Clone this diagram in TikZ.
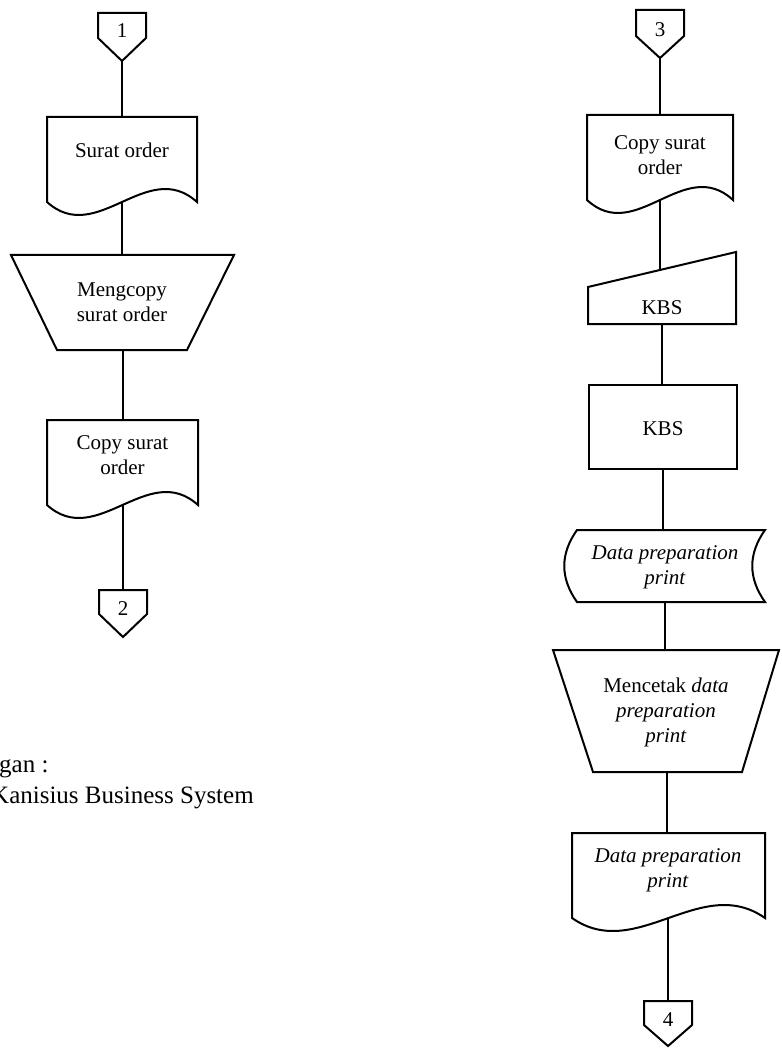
\documentclass[tikz,border=0pt]{standalone}
\usepackage{fontspec}
\setmainfont{Liberation Serif}
\begin{document}
\begin{tikzpicture}[x=1pt,y=-1pt,
  shapeline/.style={draw=black, line width=2pt},
  flow/.style={draw=black, line width=2pt},
  lbl/.style={font=\fontsize{21}{25}\selectfont, align=center, inner sep=0pt},
  legend/.style={font=\fontsize{25}{31}\selectfont, inner sep=0pt, anchor=base west}]
\fill[white] (0,0) rectangle (781,1048);
\useasboundingbox (0,0) rectangle (781,1048);

% ---------------- left flow ----------------
% off-page connector 1
\draw[shapeline] (98,13) -- (146,13) -- (146,38) -- (122,61) -- (98,38) -- cycle;
\node[lbl,anchor=base] (con1) at (122,38) {1};
\coordinate (con1-out) at (122,61);

% document: surat order
\draw[shapeline] (47,202) -- (47,117) -- (197,117) -- (197,202)
  .. controls (147,157) and (97,247) .. (47,202) -- cycle;
\node[lbl,anchor=base] (surat) at (122,158) {Surat order};
\coordinate (surat-in) at (122,117);
\coordinate (surat-out) at (122,202);

% manual operation: mengcopy
\draw[shapeline] (11,255) -- (234,255) -- (187,350) -- (57,350) -- cycle;
\node[lbl] (mengcopy) at (122,302) {Mengcopy\\surat order};
\coordinate (mengcopy-in) at (122,255);
\coordinate (mengcopy-out) at (123,350);

% document: copy surat order
\draw[shapeline] (47,505) -- (47,420) -- (198,420) -- (198,505)
  .. controls (148,460) and (97,550) .. (47,505) -- cycle;
\node[lbl] (copyl) at (122.5,455) {Copy surat\\order};
\coordinate (copyl-in) at (123,420);
\coordinate (copyl-out) at (123,505);

% off-page connector 2
\draw[shapeline] (99,590) -- (147,590) -- (147,614) -- (123,637) -- (99,614) -- cycle;
\node[lbl,anchor=base] (con2) at (123,615) {2};
\coordinate (con2-in) at (123,590);

\draw[flow] (con1-out) -- (surat-in);
\draw[flow] (surat-out) -- (mengcopy-in);
\draw[flow] (mengcopy-out) -- (copyl-in);
\draw[flow] (copyl-out) -- (con2-in);

% legend
\node[legend] (ket) at (-1,772) {gan :};
\node[legend] (kbsdef) at (-9,803) {Kanisius Business System};

% ---------------- right flow ----------------
% off-page connector 3
\draw[shapeline] (636,10) -- (684,10) -- (684,36) -- (660,58) -- (636,36) -- cycle;
\node[lbl,anchor=base] (con3) at (660,37) {3};
\coordinate (con3-out) at (660,58);

% document: copy surat order
\draw[shapeline] (587,200) -- (587,115) -- (733,115) -- (733,200)
  .. controls (684.3,155) and (635.7,245) .. (587,200) -- cycle;
\node[lbl] (copyr) at (660,155) {Copy surat\\order};
\coordinate (copyr-in) at (660,115);
\coordinate (copyr-out) at (660,200);

% manual input: KBS
\draw[shapeline] (588,324) -- (588,287) -- (736,252) -- (736,324) -- cycle;
\node[lbl,anchor=base] (kbsin) at (662,314) {KBS};
\coordinate (kbsin-in) at (660,270);
\coordinate (kbsin-out) at (662,324);

% process: KBS
\draw[shapeline] (589,385) rectangle (737,469);
\node[lbl,anchor=base] (kbsproc) at (663,435) {KBS};
\coordinate (kbsproc-in) at (662,385);
\coordinate (kbsproc-out) at (663,469);

% stored data: data preparation print
\draw[shapeline] (577,530) -- (765,530) .. controls (748,554) and (748,578) .. (765,602)
  -- (577,602) .. controls (560,578) and (560,554) .. (577,530) -- cycle;
\node[lbl] (stored) at (665,567.75) {\textit{Data preparation}\\\textit{print}};
\coordinate (stored-in) at (663,530);
\coordinate (stored-out) at (665,602);

% manual operation: mencetak
\draw[shapeline] (553,650) -- (779,650) -- (742,772) -- (593,772) -- cycle;
\node[lbl] (mencetak) at (666,712) {Mencetak \textit{data}\\\textit{preparation}\\\textit{print}};
\coordinate (mencetak-in) at (665,650);
\coordinate (mencetak-out) at (667,772);

% document: data preparation print
\draw[shapeline] (572,918) -- (572,833) -- (765,833) -- (765,918)
  .. controls (700.7,873) and (636.3,963) .. (572,918) -- cycle;
\node[lbl] (dpp) at (668,870.75) {\textit{Data preparation}\\\textit{print}};
\coordinate (dpp-in) at (667,833);
\coordinate (dpp-out) at (668,918);

% off-page connector 4
\draw[shapeline] (644,1001) -- (692,1001) -- (692,1025) -- (668,1046) -- (644,1025) -- cycle;
\node[lbl,anchor=base] (con4) at (668,1026) {4};
\coordinate (con4-in) at (668,1001);

\draw[flow] (con3-out) -- (copyr-in);
\draw[flow] (copyr-out) -- (kbsin-in);
\draw[flow] (kbsin-out) -- (kbsproc-in);
\draw[flow] (kbsproc-out) -- (stored-in);
\draw[flow] (stored-out) -- (mencetak-in);
\draw[flow] (mencetak-out) -- (dpp-in);
\draw[flow] (dpp-out) -- (con4-in);
\end{tikzpicture}
\end{document}
